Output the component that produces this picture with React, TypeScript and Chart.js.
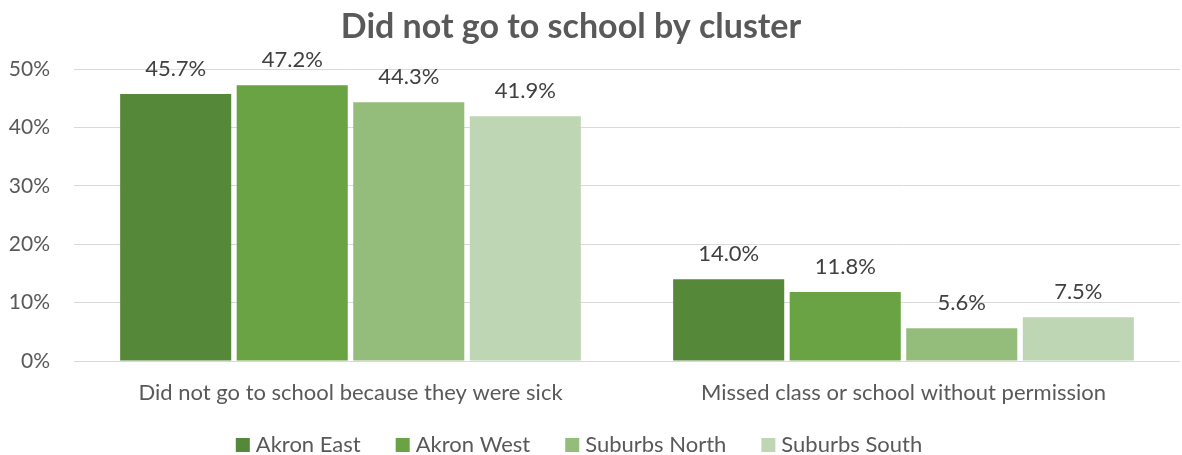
import React, { useEffect, useRef } from "react";
import { Chart, registerables } from "chart.js";

Chart.register(...registerables);

const categories = [
  "Did not go to school because they were sick",
  "Missed class or school without permission",
];
const seriesNames = ["Akron East", "Akron West", "Suburbs North", "Suburbs South"];
const akronEast = [0.457, 0.14];
const akronWest = [0.472, 0.118];
const suburbsNorth = [0.443, 0.056];
const suburbsSouth = [0.419, 0.075];
const seriesColors = ["#558838", "#6aa343", "#94bd7c", "#bed6b3"];
const titleText = "Did not go to school by cluster";

const FONT = "Lato, 'Open Sans', sans-serif";

const titlePlugin = {
  id: "customTitle",
  afterDraw(chart: any) {
    const ctx = chart.ctx;
    ctx.save();
    ctx.font = `bold 34px ${FONT}`;
    ctx.fillStyle = "#595959";
    ctx.textAlign = "center";
    ctx.textBaseline = "middle";
    ctx.fillText(titleText, 571, 27);
    ctx.restore();
  },
};

const dataLabelPlugin = {
  id: "dataLabels",
  afterDatasetsDraw(chart: any) {
    const ctx = chart.ctx;
    ctx.save();
    ctx.font = `22px ${FONT}`;
    ctx.fillStyle = "#404040";
    ctx.textAlign = "center";
    ctx.textBaseline = "middle";
    chart.data.datasets.forEach((ds: any, i: number) => {
      const meta = chart.getDatasetMeta(i);
      meta.data.forEach((bar: any, j: number) => {
        const v = ds.data[j] as number;
        ctx.fillText((v * 100).toFixed(1) + "%", bar.x, bar.y - 25);
      });
    });
    ctx.restore();
  },
};

const legendPlugin = {
  id: "customLegend",
  afterDraw(chart: any) {
    const ctx = chart.ctx;
    ctx.save();
    ctx.font = `22px ${FONT}`;
    ctx.textBaseline = "middle";
    ctx.textAlign = "left";
    const box = 14;
    const textGap = 6;
    const itemGap = 35;
    const items = chart.data.datasets.map((ds: any) => ({
      label: ds.label,
      color: ds.backgroundColor,
      w: box + textGap + ctx.measureText(ds.label).width,
    }));
    const total = items.reduce((s: number, it: any) => s + it.w, 0) + itemGap * (items.length - 1);
    let x = 579 - total / 2;
    const y = 445;
    items.forEach((it: any) => {
      ctx.fillStyle = it.color;
      ctx.fillRect(x, y - box / 2, box, box);
      ctx.fillStyle = "#595959";
      ctx.fillText(it.label, x + box + textGap, y);
      x += it.w + itemGap;
    });
    ctx.restore();
  },
};

export default function App() {
  const ref = useRef<HTMLCanvasElement | null>(null);
  useEffect(() => {
    document.body.style.margin = "0";
    const values = [akronEast, akronWest, suburbsNorth, suburbsSouth];
    const chart = new Chart(ref.current as HTMLCanvasElement, {
      type: "bar",
      data: {
        labels: categories,
        datasets: seriesNames.map((name, i) => ({
          label: name,
          data: values[i],
          backgroundColor: seriesColors[i],
          categoryPercentage: 0.843,
          barPercentage: 0.953,
        })),
      },
      options: {
        animation: false,
        responsive: false,
        maintainAspectRatio: false,
        layout: { padding: { left: 0, right: 2, top: 69, bottom: 44 } },
        plugins: {
          legend: { display: false },
          tooltip: { enabled: false },
          title: { display: false },
        },
        scales: {
          x: {
            grid: { display: false },
            border: { display: false },
            ticks: {
              color: "#595959",
              font: { family: FONT, size: 22 },
              padding: 11,
              maxRotation: 0,
            },
            afterFit(scale: any) {
              scale.height = 50;
            },
          },
          y: {
            min: 0,
            max: 0.5,
            grid: { color: "#d9d9d9", lineWidth: 1, drawTicks: false },
            border: { display: false },
            ticks: {
              stepSize: 0.1,
              color: "#595959",
              font: { family: FONT, size: 21 },
              padding: 24,
              callback: (v: any) => Math.round(Number(v) * 100) + "%",
            },
            afterFit(scale: any) {
              scale.width = 74;
            },
          },
        },
      },
      plugins: [titlePlugin, dataLabelPlugin, legendPlugin],
    });
    return () => chart.destroy();
  }, []);
  return (
    <div style={{ width: 1182, height: 455 }}>
      <canvas ref={ref} width={1182} height={455} style={{ width: 1182, height: 455 }} />
    </div>
  );
}
